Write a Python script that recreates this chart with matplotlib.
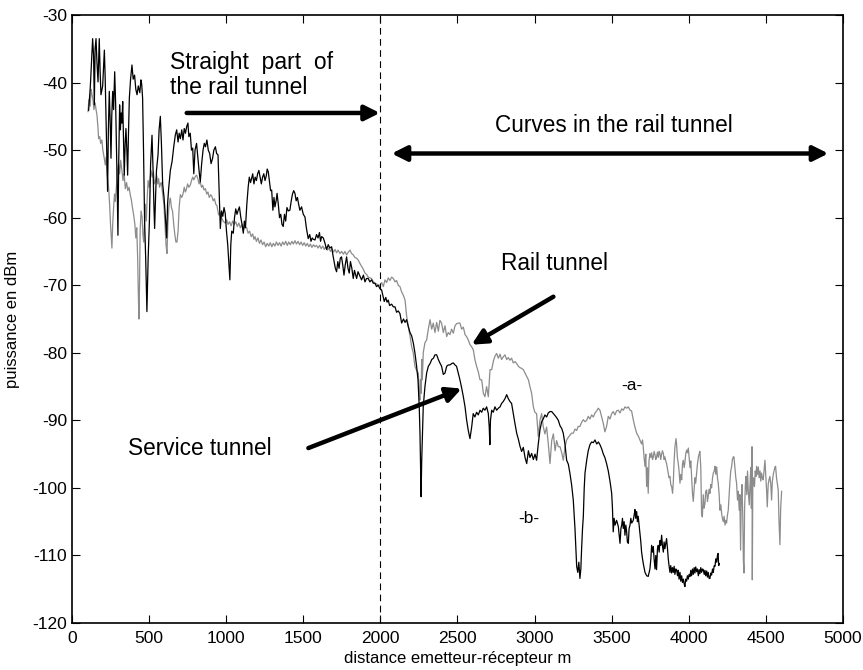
import numpy as np
import matplotlib
matplotlib.use('Agg')
import matplotlib.pyplot as plt

# service tunnel (black, -b-) : distance m , puissance dBm
service_tunnel = [
    (108,-44.1),(119,-40.6),(134,-33.5),(140,-36),(145,-43.3),(150,-35),(156,-33.5),(162,-37),(169,-39.9),(177,-33.5),
    (182,-38),(188,-41.8),(199,-40.5),(210,-35.2),(215,-39),(220,-44.3),(226,-50),(231,-56.1),(236,-47),(242,-41.3),
    (248,-46),(253,-51.2),(258,-45),(264,-41.3),(270,-44),(277,-38.4),(283,-43),(288,-48.7),(293,-55),(298,-62.6),
    (303,-52),(309,-43.3),(314,-47),(319,-44.5),(324,-46),(329,-42.8),(334,-48),(339,-53.7),(345,-49),(350,-46.8),
    (356,-50),(361,-53.7),(366,-48),(372,-42.3),(380,-39.5),(389,-37.4),(397,-39.5),(406,-38.9),(414,-41),(422,-41.8),
    (430,-40.5),(440,-41.5),(447,-39.6),(452,-40.2),(458,-42.3),(464,-50),(471,-60.6),(478,-66),(486,-73.9),(494,-66),
    (502,-60.6),(510,-52),(519,-47.8),(526,-53),(531,-58),(536,-61.6),(542,-57),(548,-53),(558,-50.7),(565,-47),
    (573,-45),(580,-49),(588,-55),(597,-57),(605,-59.6),(614,-63),(620,-58),(627,-55.7),(638,-53),(649,-51.7),
    (660,-49.5),(670,-47.8),(679,-47),(688,-48.8),(695,-47.5),(703,-48.3),(712,-47),(720,-48.5),(728,-46.8),(736,-47.5),
    (744,-46.5),(752,-46),(758,-48),(767,-47.5),(775,-50),(783,-49.7),(790,-53.5),(798,-50),(808,-49),(816,-51),
    (824,-53),(832,-54.7),(841,-52),(850,-50),(858,-49),(866,-49.5),(875,-48.5),(884,-50),(893,-50.5),(902,-52),
    (912,-51.2),(920,-50),(930,-49.5),(938,-50.5),(947,-50.7),(954,-56),(962,-61.6),(970,-59),(978,-59.8),(986,-58.5),
    (994,-59.4),(1002,-62),(1010,-64),(1018,-67),(1024,-69.2),(1030,-64),(1036,-62),(1046,-62.3),(1054,-60),(1062,-58.7),
    (1070,-59.5),(1078,-58.9),(1086,-58.4),(1095,-60),(1103,-61),(1111,-62.3),(1118,-60.5),(1125,-61.5),(1134,-58),(1143,-55.4),
    (1150,-54),(1158,-54.8),(1165,-54.2),(1172,-53.5),(1180,-55),(1188,-54),(1196,-54.5),(1204,-53.5),(1212,-53),(1219,-53.9),
    (1228,-55),(1236,-54),(1244,-53.5),(1252,-54.5),(1260,-53.8),(1266,-52.8),(1273,-53.2),(1280,-54.5),(1288,-56),(1295,-55.9),
    (1303,-58.9),(1310,-57),(1316,-58.4),(1324,-57.5),(1330,-56.4),(1338,-58),(1346,-60),(1354,-59.5),(1362,-61),(1370,-61.3),
    (1378,-59.5),(1386,-60.5),(1394,-58.5),(1403,-59),(1413,-58.9),(1422,-57.5),(1430,-56.5),(1438,-56),(1446,-56.4),(1454,-57.5),
    (1462,-57),(1470,-58),(1478,-58.9),(1489,-58.4),(1500,-59.5),(1511,-59.9),(1520,-61.5),(1532,-63.1),(1542,-62.5),(1550,-63.5),
    (1558,-63),(1565,-63.2),(1576,-63.3),(1586,-62.5),(1596,-63),(1605,-62.2),(1612,-63.5),(1619,-62.8),(1630,-63),(1641,-63.8),
    (1651,-64.7),(1662,-64),(1672,-64.5),(1684,-64.3),(1692,-65.5),(1700,-66.5),(1708,-67.5),(1716,-68),(1724,-66.5),(1732,-67.5),
    (1740,-66),(1748,-65.8),(1756,-67),(1764,-68.5),(1772,-67),(1781,-65.8),(1790,-67.5),(1798,-68.2),(1806,-66.5),(1815,-67.5),
    (1824,-69),(1832,-67.8),(1840,-68.5),(1846,-69),(1855,-68),(1868,-68.7),(1878,-69.2),(1890,-68.5),(1900,-69.5),(1910,-69),
    (1921,-69),(1932,-69.5),(1943,-69.2),(1954,-69.7),(1965,-69.7),(1975,-70.2),(1986,-70),(1997,-70.5),(2008,-70.7),(2016,-71.5),
    (2025,-72.4),(2035,-71.8),(2043,-72.5),(2051,-72.2),(2060,-73),(2073,-72.8),(2084,-73.2),(2095,-73.2),(2105,-74),(2116,-73.8),
    (2127,-74.2),(2138,-75.6),(2150,-75),(2160,-75.5),(2170,-75.1),(2181,-76.1),(2192,-77),(2203,-77.5),(2214,-78.6),(2224,-80),
    (2235,-82),(2244,-84),(2252,-88),(2257,-92),(2261,-97),(2264,-101.3),(2268,-96),(2272,-93),(2278,-88),(2289,-85),
    (2300,-83),(2311,-82),(2322,-81.6),(2333,-81),(2344,-80.8),(2354,-80.3),(2365,-80.3),(2376,-81),(2386,-81.5),(2397,-82),
    (2408,-83.2),(2419,-83),(2430,-82),(2440,-81.8),(2451,-81.8),(2462,-81.6),(2473,-81.5),(2484,-81.8),(2494,-82),(2505,-83),
    (2516,-84),(2527,-85.2),(2538,-86.5),(2549,-88),(2559,-89.9),(2570,-91.5),(2581,-92.7),(2592,-91),(2602,-89),(2613,-89.5),
    (2624,-88.8),(2635,-89.2),(2646,-88.5),(2657,-88.8),(2667,-88.2),(2678,-88.5),(2689,-88),(2700,-89),(2706,-91),(2710,-93.6),
    (2714,-90),(2722,-88.5),(2732,-88.8),(2743,-88),(2754,-88.5),(2765,-88.2),(2776,-88),(2786,-87.5),(2797,-87.2),(2808,-86.8),
    (2819,-86.2),(2830,-86.8),(2840,-87.2),(2851,-87.5),(2862,-89),(2873,-90.5),(2884,-91.9),(2895,-92.8),(2905,-93.8),(2916,-94.6),
    (2927,-94),(2938,-95.5),(2949,-96.4),(2960,-94.5),(2970,-95.5),(2981,-94.9),(2992,-95.8),(3003,-95),(3013,-95.9),(3024,-93.5),
    (3035,-91.4),(3046,-90.2),(3056,-89.8),(3067,-89.2),(3078,-89.5),(3089,-88.9),(3100,-88.7),(3111,-88.7),(3122,-89),(3133,-89.3),
    (3143,-89.6),(3154,-90),(3165,-90.8),(3176,-91.2),(3186,-91.9),(3197,-93.5),(3208,-95.9),(3219,-96.5),(3229,-97.8),(3240,-99.5),
    (3251,-101.8),(3262,-106),(3273,-111.6),(3280,-112.5),(3287,-111),(3294,-113.4),(3300,-112),(3305,-109),(3311,-106),(3316,-104.3),
    (3322,-100),(3327,-97.8),(3338,-95.9),(3348,-94.5),(3359,-93.6),(3370,-93.2),(3381,-93.3),(3392,-92.9),(3403,-93.5),(3414,-93.2),
    (3424,-93.6),(3435,-94.2),(3446,-95),(3456,-95.5),(3467,-96.4),(3478,-97.5),(3489,-99),(3500,-100.8),(3505,-103),(3510,-106.5),
    (3516,-104.5),(3522,-105.5),(3532,-104.8),(3543,-105.7),(3549,-107),(3554,-108.2),(3560,-106),(3565,-105.5),(3570,-104.5),(3575,-106),
    (3581,-105),(3586,-107),(3592,-105.5),(3597,-106.5),(3602,-108),(3608,-108.2),(3613,-106),(3619,-105.5),(3624,-104.5),(3630,-105.2),
    (3640,-104.8),(3646,-104),(3651,-103.2),(3656,-104.5),(3662,-103.5),(3667,-105),(3672,-104.2),(3678,-105.5),(3683,-106.7),(3689,-108),
    (3694,-109.5),(3700,-110.5),(3705,-111.2),(3716,-112.5),(3727,-113),(3737,-113.1),(3748,-112),(3754,-110.5),(3759,-108.5),(3765,-109.5),
    (3770,-108.7),(3775,-110.5),(3781,-112),(3786,-110),(3791,-112.1),(3797,-109),(3802,-108.5),(3808,-109.5),(3813,-107.8),(3818,-108.5),
    (3824,-107),(3829,-108.5),(3835,-109.5),(3840,-108),(3845,-109),(3851,-108.2),(3856,-107.5),(3862,-109),(3867,-110.5),(3872,-111.5),
    (3878,-112.5),(3883,-111.5),(3889,-112.6),(3894,-111.8),(3900,-112.5),(3905,-111.6),(3910,-112.8),(3916,-112),(3921,-112.1),(3927,-113),
    (3932,-112.2),(3937,-113.5),(3943,-112.5),(3948,-113.8),(3954,-113),(3959,-114),(3965,-113.5),(3970,-114.2),(3975,-114.6),(3980,-113.5),
    (3986,-113.8),(3991,-113),(3997,-113.5),(4002,-112.8),(4008,-113.1),(4013,-112.2),(4018,-113),(4024,-112),(4029,-112.8),(4035,-111.8),
    (4040,-112.6),(4045,-111.7),(4051,-112.4),(4056,-112),(4062,-113),(4067,-112.1),(4072,-112.7),(4078,-111.8),(4083,-112.5),(4089,-112),
    (4094,-112.1),(4100,-112.8),(4105,-112.2),(4110,-113),(4116,-112.3),(4121,-113.2),(4126,-112.5),(4132,-113.4),(4137,-113.4),(4143,-112.6),
    (4148,-112.9),(4154,-112),(4159,-112.5),(4165,-111.5),(4170,-111.6),(4175,-110.5),(4181,-111),(4186,-110),(4190,-109.7),(4194,-111.5),
    (4198,-111.2),
]

# rail tunnel (gris, -a-)
rail_tunnel = [
    (104,-44.3),(110,-42.5),(118,-43.5),(124,-41),(130,-41.8),(136,-42.5),(142,-44),(150,-43),(156,-44),(162,-44.8),
    (168,-46.5),(173,-48.3),(180,-48),(186,-49),(194,-48.5),(200,-50),(208,-51),(216,-52.2),(222,-51),(230,-54),
    (238,-55.7),(244,-58),(250,-61),(255,-63),(259,-64.5),(264,-61),(270,-58.5),(276,-56.5),(281,-57.6),(288,-55.5),
    (295,-53),(302,-52),(309,-53.5),(316,-51.5),(324,-53),(331,-54.5),(338,-53.5),(346,-55.7),(354,-54.8),(362,-56),
    (370,-55.5),(378,-56.6),(386,-57.5),(392,-58.5),(400,-59.6),(408,-61),(414,-63),(420,-61.5),(426,-66),(430,-71),
    (434,-75),(438,-70),(442,-62),(448,-59),(455,-60),(460,-62.5),(465,-63.6),(470,-61),(476,-58),(482,-60.5),
    (488,-57),(494,-54.5),(500,-55.5),(506,-54.4),(512,-53),(520,-54),(528,-53.2),(535,-55),(542,-54.6),(550,-53.8),
    (556,-55),(562,-54.2),(568,-55.5),(574,-55),(580,-54.8),(588,-56.5),(596,-58),(603,-61),(610,-64),(616,-65.3),
    (622,-61),(628,-58.5),(634,-57.5),(638,-57.1),(645,-58.5),(652,-59),(660,-61),(667,-62.5),(674,-63.6),(681,-63.6),
    (688,-62),(695,-58.5),(703,-56.6),(712,-57),(720,-56.5),(728,-55.5),(735,-56.2),(742,-55.8),(750,-55),(758,-55.5),
    (767,-55.2),(775,-54.5),(783,-54),(790,-54.4),(800,-53.9),(808,-53.7),(816,-54.2),(824,-55),(832,-54.7),(840,-55.5),
    (848,-55.2),(856,-55.9),(865,-55.7),(874,-56.5),(882,-56.2),(890,-57),(900,-56.6),(908,-56.9),(916,-57.5),(924,-57.2),
    (932,-58),(940,-58.2),(951,-59.6),(960,-59.2),(970,-60),(980,-60.5),(994,-60.8),(1003,-60.3),(1012,-61),(1022,-60.6),
    (1032,-61.2),(1042,-60.5),(1052,-61),(1062,-60.6),(1072,-61.3),(1082,-60.8),(1092,-61.5),(1102,-61),(1112,-61.8),(1122,-61.3),
    (1133,-61.5),(1142,-62.3),(1152,-62),(1162,-62.8),(1172,-62.4),(1180,-63.2),(1187,-62.8),(1196,-63.5),(1206,-63),(1216,-63.8),
    (1226,-63.3),(1236,-64),(1246,-63.6),(1256,-64.3),(1266,-63.8),(1276,-64.2),(1286,-63.7),(1296,-64.3),(1306,-63.8),(1316,-64.2),
    (1326,-63.6),(1336,-64.1),(1346,-63.7),(1356,-64.2),(1366,-63.6),(1376,-64),(1386,-63.5),(1396,-64.1),(1406,-63.6),(1416,-64),
    (1426,-63.5),(1436,-63.9),(1446,-63.4),(1456,-63.9),(1466,-63.5),(1476,-64),(1486,-63.6),(1496,-64.1),(1506,-63.7),(1516,-64.2),
    (1526,-63.8),(1536,-64.3),(1546,-63.9),(1556,-64.4),(1566,-64),(1576,-64.3),(1586,-64.1),(1596,-64.5),(1606,-64.1),(1616,-64.6),
    (1626,-64.2),(1636,-64.7),(1646,-64.3),(1656,-64.8),(1666,-64.5),(1676,-65),(1686,-64.6),(1696,-65.1),(1706,-64.7),(1716,-65.2),
    (1726,-64.8),(1738,-65.3),(1749,-65),(1760,-65.4),(1770,-65),(1781,-65.5),(1792,-65.1),(1803,-64.8),(1813,-65.3),(1824,-65.5),
    (1835,-65.9),(1846,-66),(1857,-66.3),(1868,-66.8),(1878,-67.2),(1889,-67.6),(1900,-68.2),(1911,-68.4),(1921,-68.8),(1932,-68.9),
    (1943,-69),(1954,-69.5),(1965,-69.7),(1976,-69.8),(1986,-70),(1997,-70),(2008,-69.6),(2019,-70.2),(2030,-69.2),(2041,-69.6),
    (2051,-68.9),(2062,-69.3),(2073,-68.8),(2084,-69),(2095,-69.5),(2105,-69.3),(2116,-70),(2127,-70.2),(2138,-71),(2149,-71.5),
    (2160,-72.2),(2170,-74.5),(2181,-76.1),(2192,-77.5),(2203,-79.1),(2213,-80),(2224,-82),(2235,-82.6),(2246,-83),(2252,-86),
    (2256,-87),(2260,-84),(2264,-86),(2268,-81),(2272,-84),(2278,-80),(2289,-78.5),(2300,-78.1),(2311,-76.5),(2322,-75.1),
    (2333,-76.5),(2343,-75.6),(2354,-77),(2365,-75.5),(2376,-76.8),(2386,-75.2),(2397,-75.6),(2408,-77),(2419,-76),(2430,-77.6),
    (2440,-77),(2451,-77.3),(2462,-76.5),(2473,-77.1),(2484,-76),(2494,-75.7),(2505,-75.6),(2516,-75.6),(2527,-76.5),(2538,-76.2),
    (2549,-77.3),(2559,-77.6),(2570,-78.1),(2581,-78.8),(2592,-79.1),(2603,-79.6),(2613,-81),(2624,-82),(2635,-82.8),(2646,-84),
    (2657,-84),(2668,-86),(2678,-86.5),(2689,-85),(2700,-86.5),(2711,-82.5),(2722,-82.5),(2732,-81.3),(2743,-80.5),(2754,-80.1),
    (2765,-80.8),(2776,-80.2),(2786,-81),(2797,-80.6),(2808,-80.3),(2819,-81),(2830,-80.7),(2840,-81.1),(2851,-80.8),(2862,-81.5),
    (2873,-81.3),(2884,-81.6),(2895,-82),(2905,-82.2),(2916,-82.3),(2927,-82.5),(2938,-83),(2949,-83.5),(2960,-84),(2970,-85),
    (2981,-86),(2992,-88),(3002,-88.8),(3013,-89),(3024,-92.4),(3035,-90),(3046,-89),(3056,-90.9),(3067,-92),(3078,-91),
    (3089,-93.5),(3100,-96.4),(3111,-93),(3122,-92),(3133,-94.5),(3143,-93),(3154,-93.9),(3165,-93.9),(3176,-94.8),(3186,-95.9),
    (3197,-94),(3208,-92.9),(3219,-92.5),(3229,-92.2),(3240,-91.9),(3251,-91.9),(3262,-91.3),(3273,-91.5),(3283,-90.9),(3294,-90.9),
    (3305,-90.3),(3316,-89.9),(3327,-90.2),(3338,-90),(3348,-89.4),(3359,-89.8),(3370,-89.2),(3381,-89.5),(3392,-88.9),(3403,-88.6),
    (3413,-88.2),(3424,-88.5),(3435,-89.5),(3446,-90.5),(3456,-91.7),(3467,-90.9),(3478,-89.4),(3489,-89.8),(3500,-89),(3510,-88.7),
    (3521,-89.2),(3532,-88.6),(3543,-88.5),(3554,-88.9),(3565,-88.3),(3576,-88.5),(3586,-88),(3597,-88.2),(3608,-88),(3619,-88.5),
    (3629,-88.6),(3640,-89.9),(3651,-91),(3662,-91.9),(3672,-92.3),(3683,-92.9),(3694,-93.5),(3700,-92.9),(3705,-94),(3710,-95.5),
    (3716,-96.8),(3721,-95),(3727,-99.8),(3732,-97),(3737,-100.8),(3742,-96),(3748,-94.9),(3754,-95.5),(3759,-94.8),(3765,-95.8),
    (3770,-95.4),(3775,-94.6),(3781,-95.1),(3786,-95.8),(3791,-95.4),(3797,-94.7),(3802,-95.5),(3808,-94.6),(3813,-94.9),(3818,-95.8),
    (3824,-95),(3829,-94.5),(3835,-94.9),(3840,-95.8),(3845,-95.4),(3851,-96),(3856,-96.4),(3862,-97.2),(3867,-97.8),(3872,-98.5),
    (3878,-98.3),(3883,-99.5),(3889,-99.8),(3895,-100.8),(3900,-99),(3905,-96),(3910,-94),(3917,-92.7),(3921,-93.5),(3926,-95.5),
    (3932,-96.4),(3937,-97.5),(3943,-99.3),(3948,-98),(3954,-98.8),(3959,-96.5),(3964,-95.9),(3970,-97),(3975,-96.2),(3980,-95),
    (3986,-94.4),(3991,-94.8),(3997,-94.1),(4002,-95.5),(4008,-97),(4013,-96),(4018,-98.3),(4024,-100.8),(4029,-102),(4035,-100),
    (4040,-98.5),(4045,-99.3),(4051,-97.8),(4056,-96.5),(4062,-95.5),(4067,-95),(4072,-94.6),(4078,-97),(4083,-103.8),(4088,-104.3),
    (4094,-101),(4099,-103),(4105,-102.3),(4110,-100.5),(4116,-100.3),(4121,-102),(4126,-101.3),(4132,-100.2),(4137,-100.8),(4143,-99.5),
    (4148,-100),(4154,-98.5),(4159,-97.8),(4165,-97.5),(4170,-96.8),(4175,-98),(4181,-96.9),(4186,-98.5),(4191,-99.3),(4197,-101),
    (4202,-103.3),(4208,-102.5),(4213,-103.8),(4218,-104.5),(4224,-105),(4229,-104.2),(4235,-105.5),(4240,-104.8),(4245,-105.2),(4251,-104),
    (4256,-103.3),(4262,-101),(4267,-99),(4272,-97.5),(4278,-96.8),(4283,-95.8),(4289,-95.4),(4293,-95.4),(4299,-97),(4305,-98.5),
    (4310,-99.3),(4316,-101.8),(4321,-100.5),(4327,-103.3),(4331,-101),(4336,-109.2),(4340,-102),(4345,-99.5),(4350,-104),(4354,-110.7),
    (4358,-112.6),(4362,-103),(4367,-99.5),(4371,-98.3),(4376,-101),(4381,-97.5),(4386,-100.5),(4392,-102.5),(4397,-99.5),(4402,-97),
    (4406,-103),(4410,-93.9),(4412,-113.6),(4415,-100),(4420,-98.5),(4426,-99.8),(4431,-97.5),(4436,-98.3),(4440,-96.8),(4445,-98),
    (4451,-96.9),(4456,-98.5),(4462,-97.5),(4467,-99),(4472,-97.8),(4478,-98.6),(4483,-98.8),(4489,-97.2),(4494,-95.9),(4500,-98.5),
    (4505,-100.5),(4509,-102.8),(4515,-99.5),(4520,-98.8),(4526,-98.3),(4532,-99.5),(4537,-101.8),(4542,-99),(4548,-98),(4553,-97.5),
    (4559,-96.9),(4563,-96.8),(4569,-98.5),(4575,-99.5),(4580,-100.3),(4585,-104.8),(4591,-108.4),(4596,-103),(4602,-100.5),
]

limite_droite = 2000
xticks = [0, 500, 1000, 1500, 2000, 2500, 3000, 3500, 4000, 4500, 5000]
yticks = [-120, -110, -100, -90, -80, -70, -60, -50, -40, -30]

plt.rcParams['font.family'] = ['Liberation Sans', 'DejaVu Sans']
plt.rcParams['axes.unicode_minus'] = False

b = np.array(service_tunnel)
a = np.array(rail_tunnel)

fig = plt.figure(figsize=(8.63, 6.70), dpi=100)
ax = fig.add_axes([0.0834, 0.0701, 0.8934, 0.9075])

ax.plot(a[:, 0], a[:, 1], color='#8c8c8c', lw=0.9)
ax.plot(b[:, 0], b[:, 1], color='black', lw=0.9)
ax.axvline(limite_droite, color='black', lw=0.8, ls=(0, (6, 4)))

ax.set_xlim(0, 5000)
ax.set_ylim(-120, -30)
ax.set_xticks(xticks)
ax.set_yticks(yticks)
ax.tick_params(direction='in', top=True, right=True, length=5.5, width=0.8, labelsize=12.5)
ax.tick_params(axis='x', pad=5.5)
for s in ax.spines.values():
    s.set_linewidth(1.2)

ax.set_xlabel('distance emetteur-récepteur m', fontsize=12, labelpad=4)
ax.set_ylabel('puissance en dBm', fontsize=12)
ax.yaxis.set_label_coords(-0.067, 0.5)

fl = dict(arrowstyle='-|>,head_length=0.9,head_width=0.45', lw=3.2, color='black', shrinkA=0, shrinkB=0)
fl2 = dict(arrowstyle='<|-|>,head_length=0.9,head_width=0.45', lw=3.2, color='black', shrinkA=0, shrinkB=0)

ax.text(636, -37.1, 'Straight  part  of', fontsize=16.5, va='center', ha='left')
ax.text(636, -40.8, 'the rail tunnel', fontsize=16.5, va='center', ha='left')
ax.annotate('', xy=(1997, -44.5), xytext=(744, -44.5), arrowprops=fl)

ax.text(3515, -46.3, 'Curves in the rail tunnel', fontsize=16.3, va='center', ha='center')
ax.annotate('', xy=(4905, -50.5), xytext=(2073, -50.5), arrowprops=fl2)

ax.text(3132, -66.8, 'Rail tunnel', fontsize=16.3, va='center', ha='center')
ax.annotate('', xy=(2592, -78.8), xytext=(3122, -71.7), arrowprops=fl)

ax.text(830, -94.1, 'Service tunnel', fontsize=16.3, va='center', ha='center')
ax.annotate('', xy=(2527, -85.3), xytext=(1533, -94.1), arrowprops=fl)

ax.text(3632, -84.9, '-a-', fontsize=12.5, va='center', ha='center')
ax.text(2964, -104.6, '-b-', fontsize=12.5, va='center', ha='center')

fig.savefig('out.png', dpi=100)
